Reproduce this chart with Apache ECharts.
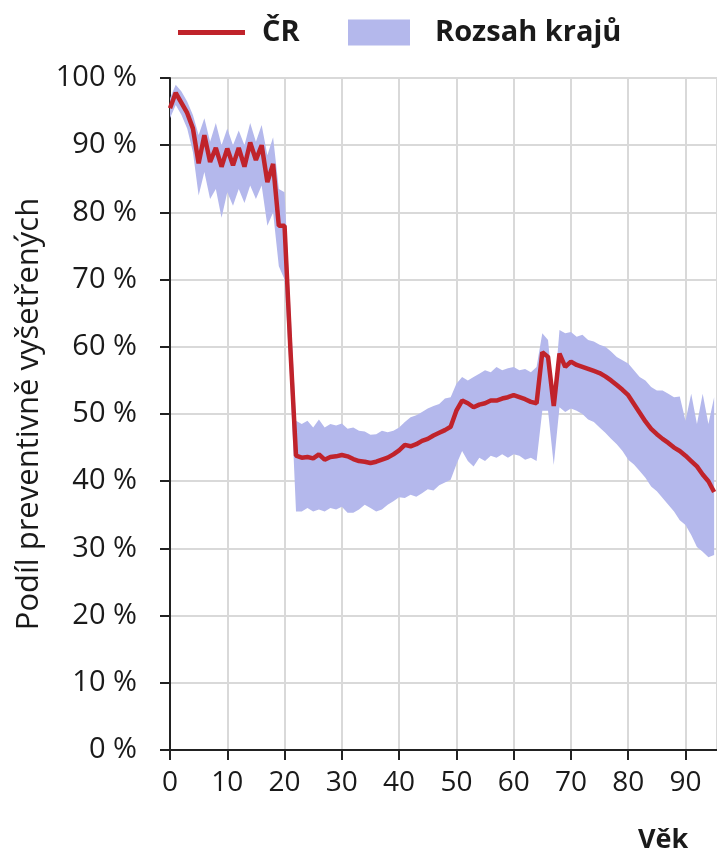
<!DOCTYPE html>
<html>
<head>
<meta charset="utf-8">
<script src="https://cdn.jsdelivr.net/npm/echarts@6/dist/echarts.min.js"></script>
<style>
html,body{margin:0;padding:0;background:#fff;}
#c{width:717px;height:860px;}
</style>
</head>
<body>
<div id="c"></div>
<script>
const ages = [0,1,2,3,4,5,6,7,8,9,10,11,12,13,14,15,16,17,18,19,20,21,22,23,24,25,26,27,28,29,30,31,32,33,34,35,36,37,38,39,40,41,42,43,44,45,46,47,48,49,50,51,52,53,54,55,56,57,58,59,60,61,62,63,64,65,66,67,68,69,70,71,72,73,74,75,76,77,78,79,80,81,82,83,84,85,86,87,88,89,90,91,92,93,94,95];
const cr = [95.5,97.8,96.3,94.8,92.5,87.3,91.5,87.5,89.6,86.8,89.5,87.0,89.6,86.8,90.4,87.8,90.0,84.5,87.2,78.0,78.0,60.0,43.8,43.5,43.6,43.4,44.0,43.2,43.6,43.7,43.9,43.7,43.3,43.0,42.9,42.7,42.9,43.2,43.5,44.0,44.6,45.4,45.2,45.5,46.0,46.3,46.8,47.2,47.6,48.1,50.5,52.0,51.6,51.0,51.4,51.6,52.0,52.0,52.3,52.5,52.8,52.5,52.2,51.8,51.6,59.2,58.5,51.2,59.0,57.0,57.8,57.3,57.0,56.7,56.4,56.1,55.6,55.0,54.3,53.6,52.8,51.5,50.2,48.9,47.8,47.0,46.3,45.7,45.0,44.5,43.8,43.0,42.2,41.0,40.0,38.4];
const bandLow = [94,96,94.5,92.5,89,82.5,86,82,83.5,79.2,83,81,83.5,81.4,84,82,84,78,80,72,70,55,35.5,35.5,36,35.5,35.8,35.5,36,35.8,36.2,35.3,35.3,35.8,36.5,36,35.5,35.8,36.5,37,37.6,37.5,38,37.7,38.2,38.8,38.6,39.4,39.8,40.2,42.5,44.5,43,42.2,43.5,43,43.8,43.5,44,43.5,44,43.8,43.2,43.5,43,50.5,50.5,42.4,51,50.3,50.8,50.5,50,49.2,48.8,48,47.2,46.3,45.5,44.5,43.2,42.5,41.5,40.5,39.2,38.5,37.5,36.5,35.5,34.2,33.5,32,30.2,29.5,28.7,29];
const bandHigh = [97,99,98,96.5,94.5,91.5,94,90.5,93.3,90,92.5,90,92.2,90,93.3,90.5,93,88.5,91.2,83.5,83,66,49,48.5,49,48,49.2,48,48.5,48.3,48.6,47.8,48,47.5,47.4,46.9,47,47.5,47.3,47.5,48,48.8,49.5,49.8,50.3,50.8,51.2,51.5,52.3,52.5,54.5,55.5,55,55.5,56,56.5,56.2,57,56.5,56.8,57,56.5,56.7,56.2,57,62,61,52,62.5,62,62.2,61.5,61.8,61,60.8,60.3,60,59.3,58.5,58,57.5,56.5,55.5,55,54,53.5,53.5,53,52.5,52.6,49,53,48.5,53,48.5,52.5];

const FONT = 'Open Sans';
const redColor = '#c0232b';
const bandColor = '#b4b8ec';

const chart = echarts.init(document.getElementById('c'), null, {renderer:'canvas'});
chart.setOption({
  animation:false,
  backgroundColor:'#fff',
  textStyle:{fontFamily:FONT},
  grid:{left:170, right:0, top:78, bottom:110, containLabel:false},
  title:{text:'Věk', left:638, top:827, padding:0, textStyle:{fontFamily:FONT, fontSize:27, fontWeight:'bold', color:'#1a1a1a'}},
  legend:[
    {left:178, top:18, itemWidth:67, itemHeight:5, padding:0, data:[{name:'ČR', icon:'rect', itemStyle:{color:redColor}}],
     textStyle:{fontFamily:FONT, fontSize:29, fontWeight:'bold', color:'#1a1a1a', padding:[0,0,0,12]}},
    {left:348, top:18, itemWidth:62, itemHeight:26, padding:0, data:[{name:'Rozsah krajů', icon:'rect', itemStyle:{color:bandColor}}],
     textStyle:{fontFamily:FONT, fontSize:29, fontWeight:'bold', color:'#1a1a1a', padding:[0,0,0,20]}}
  ],
  xAxis:{type:'value', min:0, max:95.5, interval:10,
    axisLine:{lineStyle:{color:'#222', width:2}},
    axisTick:{show:true, inside:false, length:10, lineStyle:{color:'#222', width:2}},
    axisLabel:{fontFamily:FONT, fontSize:28, color:'#1a1a1a', margin:19, showMaxLabel:false,
      formatter:v=> (v%10===0 ? String(v) : '')},
    splitLine:{show:true, lineStyle:{color:'#d9d9d9', width:2}}
  },
  yAxis:{type:'value', min:0, max:100, interval:10,
    name:'Podíl preventivně vyšetřených', nameLocation:'middle', nameGap:124,
    nameTextStyle:{fontFamily:FONT, fontSize:31, color:'#1a1a1a'},
    axisLine:{show:true, lineStyle:{color:'#222', width:2}},
    axisTick:{show:true, inside:false, length:10, lineStyle:{color:'#222', width:2}},
    axisLabel:{fontFamily:FONT, fontSize:29, color:'#1a1a1a', margin:33, formatter:v=>v+' %'},
    splitLine:{show:true, lineStyle:{color:'#d9d9d9', width:2}}
  },
  series:[
    {name:'Rozsah krajů', type:'custom', silent:true, color:bandColor,
     data:ages.map((a,i)=>[a,bandLow[i],bandHigh[i]]), encode:{x:0, y:[1,2]},
     renderItem:function(params, api){
       if (params.dataIndex !== 0) return null;
       const top = [], bot = [];
       for (let i = 0; i < ages.length; i++) {
         top.push(api.coord([ages[i], bandHigh[i]]));
         bot.push(api.coord([ages[i], bandLow[i]]));
       }
       return {type:'polygon', shape:{points: top.concat(bot.reverse())}, style:{fill:bandColor, stroke:null}};
     }, z:2},
    {name:'ČR', type:'line', symbol:'none', color:redColor,
     lineStyle:{color:redColor, width:4.5}, data:ages.map((a,i)=>[a,cr[i]]), z:5}
  ]
});
</script>
</body>
</html>
